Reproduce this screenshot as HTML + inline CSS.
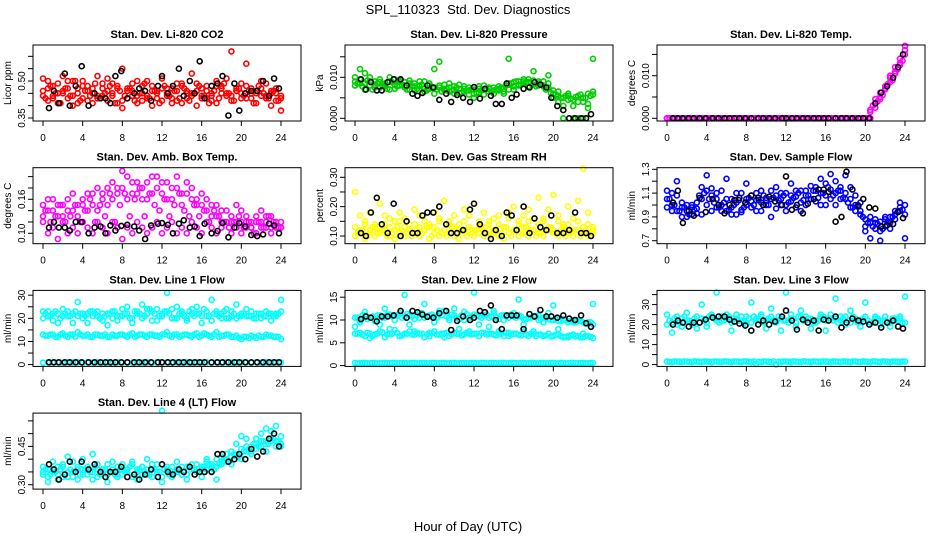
<!DOCTYPE html>
<html><head><meta charset="utf-8">
<style>
html,body{margin:0;padding:0;background:#fff;}
svg{display:block;font-family:"Liberation Sans",sans-serif;}
</style></head>
<body>
<svg id="chart" width="936" height="540" viewBox="0 0 936 540" xmlns="http://www.w3.org/2000/svg">
<text x="468" y="14" text-anchor="middle" font-size="13">SPL_110323&#160; Std. Dev. Diagnostics</text>
<text x="468" y="531" text-anchor="middle" font-size="13">Hour of Day (UTC)</text>
</svg>
<script>
const hrs = [0,0.5,1,1.5,2,2.5,3,3.5,4,4.5,5,5.5,6,6.5,7,7.5,8,8.5,9,9.5,10,10.5,11,11.5,12,12.5,13,13.5,14,14.5,15,15.5,16,16.5,17,17.5,18,18.5,19,19.5,20,20.5,21,21.5,22,22.5,23,23.5,24];
const hrs2 = [0.25,0.75,1.25,1.75,2.25,2.75,3.25,3.75,4.25,4.75,5.25,5.75,6.25,6.75,7.25,7.75,8.25,8.75,9.25,9.75,10.25,10.75,11.25,11.75,12.25,12.75,13.25,13.75,14.25,14.75,15.25,15.75,16.25,16.75,17.25,17.75,18.25,18.75,19.25,19.75,20.25,20.75,21.25,21.75,22.25,22.75,23.25,23.75];
const hrsK = [0.6,1.1,1.6,2.2,2.7,3.3,3.9,4.6,5.2,5.8,6.3,6.8,7.3,7.9,8.5,9.2,9.7,10.3,10.9,11.6,12.0,12.6,13.1,13.7,14.2,14.8,15.3,15.8,16.3,17.0,17.6,18.1,18.7,19.3,19.8,20.4,21.0,21.6,22.2,22.8,23.3,23.8];
const xTicks = [0,4,8,12,16,20,24];

const co2A = [0.51,0.47,0.44,0.49,0.46,0.43,0.50,0.45,0.48,0.42,0.47,0.52,0.44,0.46,0.49,0.41,0.55,0.47,0.44,0.50,0.45,0.43,0.48,0.46,0.51,0.44,0.47,0.42,0.49,0.45,0.53,0.46,0.43,0.48,0.44,0.50,0.47,0.45,0.62,0.46,0.49,0.43,0.47,0.45,0.50,0.44,0.46,0.42,0.38];
const co2B = [0.44,0.42,0.48,0.41,0.45,0.50,0.40,0.47,0.43,0.46,0.41,0.44,0.49,0.42,0.45,0.47,0.39,0.43,0.46,0.41,0.48,0.44,0.40,0.45,0.42,0.47,0.43,0.49,0.41,0.46,0.44,0.40,0.47,0.43,0.45,0.41,0.48,0.44,0.42,0.46,0.43,0.57,0.45,0.41,0.47,0.43,0.40,0.45,0.43];
const co2C = [0.46,0.50,0.43,0.45,0.52,0.47,0.44,0.41,0.50,0.48,0.45,0.43,0.47,0.51,0.44,0.48,0.42,0.46,0.49,0.44,0.42,0.50,0.46,0.43,0.47,0.45,0.41,0.46,0.48,0.43,0.45,0.49,0.44,0.46,0.42,0.48,0.45,0.51,0.44,0.47,0.45,0.48,0.43,0.46,0.44,0.49,0.45,0.47,0.44];
const co2D = [0.43,0.48,0.45,0.41,0.47,0.44,0.50,0.42,0.46,0.44,0.49,0.43,0.45,0.48,0.41,0.46,0.44,0.47,0.42,0.45,0.49,0.43,0.46,0.41,0.48,0.44,0.46,0.43,0.47,0.42,0.45,0.48,0.44,0.41,0.46,0.43,0.49,0.45,0.42,0.47,0.44,0.46,0.41,0.48,0.45,0.43,0.46,0.42];
const co2K = [0.39,0.46,0.41,0.53,0.40,0.48,0.56,0.40,0.45,0.43,0.43,0.41,0.52,0.54,0.43,0.45,0.47,0.46,0.42,0.48,0.52,0.45,0.48,0.55,0.44,0.50,0.45,0.58,0.43,0.48,0.49,0.52,0.36,0.49,0.38,0.45,0.46,0.46,0.50,0.44,0.51,0.47];

const prA = [0.0100,0.0085,0.0110,0.0080,0.0090,0.0075,0.0085,0.0090,0.0095,0.0080,0.0088,0.0070,0.0085,0.0078,0.0090,0.0072,0.0120,0.0080,0.0068,0.0075,0.0070,0.0082,0.0065,0.0075,0.0060,0.0078,0.0070,0.0065,0.0075,0.0068,0.0072,0.0085,0.0078,0.0090,0.0095,0.0088,0.0092,0.0085,0.0080,0.0075,0.0068,0.0055,0.0050,0.0060,0.0045,0.0055,0.0050,0.0060,0.0058];
const prB = [0.0080,0.0095,0.0070,0.0090,0.0075,0.0088,0.0080,0.0070,0.0082,0.0092,0.0075,0.0085,0.0068,0.0080,0.0072,0.0085,0.0060,0.0075,0.0082,0.0065,0.0078,0.0062,0.0072,0.0058,0.0070,0.0063,0.0080,0.0072,0.0060,0.0078,0.0065,0.0070,0.0088,0.0080,0.0085,0.0095,0.0082,0.0090,0.0078,0.0085,0.0060,0.0040,0.0000,0.0045,0.0030,0.0000,0.0040,0.0025,0.0065];
const prC = [0.0090,0.0120,0.0085,0.0100,0.0082,0.0095,0.0078,0.0100,0.0072,0.0088,0.0080,0.0092,0.0078,0.0090,0.0065,0.0080,0.0075,0.0138,0.0072,0.0085,0.0060,0.0072,0.0078,0.0068,0.0050,0.0072,0.0058,0.0075,0.0068,0.0072,0.0060,0.0145,0.0070,0.0082,0.0090,0.0078,0.0115,0.0080,0.0090,0.0105,0.0050,0.0065,0.0030,0.0055,0.0000,0.0040,0.0000,0.0035,0.0145];
const prD = [0.0085,0.0078,0.0092,0.0070,0.0085,0.0080,0.0072,0.0088,0.0078,0.0082,0.0070,0.0078,0.0072,0.0082,0.0068,0.0075,0.0070,0.0065,0.0072,0.0068,0.0075,0.0062,0.0068,0.0070,0.0062,0.0068,0.0072,0.0065,0.0070,0.0075,0.0080,0.0085,0.0090,0.0082,0.0088,0.0085,0.0078,0.0082,0.0070,0.0062,0.0058,0.0050,0.0055,0.0048,0.0052,0.0058,0.0050,0.0055];
const prK = [0.0095,0.0070,0.0088,0.0068,0.0068,0.0088,0.0095,0.0095,0.0080,0.0060,0.0055,0.0062,0.0080,0.0075,0.0045,0.0060,0.0040,0.0057,0.0050,0.0040,0.0076,0.0048,0.0072,0.0055,0.0035,0.0035,0.0085,0.0050,0.0058,0.0072,0.0075,0.0088,0.0082,0.0075,0.0050,0.0030,0.0020,0.0000,0.0000,0.0000,0.0000,0.0010];

const tmA = [0,0,0,0,0,0,0,0,0,0,0,0,0,0,0,0,0,0,0,0,0,0,0,0,0,0,0,0,0,0,0,0,0,0,0,0,0,0,0,0,0,0.0015,0.0035,0.0050,0.0070,0.0095,0.0110,0.0130,0.0170];
const tmB = [0,0,0,0,0,0,0,0,0,0,0,0,0,0,0,0,0,0,0,0,0,0,0,0,0,0,0,0,0,0,0,0,0,0,0,0,0,0,0,0,0,0.0000,0.0025,0.0045,0.0068,0.0085,0.0105,0.0125,0.0150];
const tmC = [0,0,0,0,0,0,0,0,0,0,0,0,0,0,0,0,0,0,0,0,0,0,0,0,0,0,0,0,0,0,0,0,0,0,0,0,0,0,0,0,0,0.0020,0.0045,0.0060,0.0075,0.0100,0.0120,0.0140,0.0160];
const tmD = [0,0,0,0,0,0,0,0,0,0,0,0,0,0,0,0,0,0,0,0,0,0,0,0,0,0,0,0,0,0,0,0,0,0,0,0,0,0,0,0,0,0.0030,0.0040,0.0055,0.0080,0.0090,0.0115,0.0135];
const tmK = [0,0,0,0,0,0,0,0,0,0,0,0,0,0,0,0,0,0,0,0,0,0,0,0,0,0,0,0,0,0,0,0,0,0,0,0,0.0035,0.0060,0.0075,0.0095,0.0120,0.0150];

const abA = [0.15,0.14,0.16,0.13,0.15,0.14,0.17,0.15,0.16,0.14,0.17,0.18,0.16,0.15,0.19,0.17,0.18,0.20,0.17,0.19,0.18,0.16,0.20,0.18,0.17,0.19,0.16,0.18,0.17,0.19,0.16,0.15,0.17,0.14,0.15,0.13,0.14,0.12,0.13,0.12,0.14,0.11,0.12,0.13,0.11,0.12,0.13,0.11,0.12];
const abB = [0.13,0.16,0.14,0.15,0.13,0.16,0.14,0.13,0.15,0.17,0.15,0.14,0.17,0.18,0.16,0.18,0.21,0.16,0.19,0.17,0.16,0.19,0.17,0.20,0.19,0.16,0.18,0.20,0.15,0.17,0.18,0.16,0.15,0.16,0.13,0.15,0.12,0.14,0.12,0.15,0.12,0.13,0.11,0.12,0.14,0.13,0.11,0.12,0.11];
const abC = [0.12,0.10,0.11,0.09,0.12,0.10,0.11,0.10,0.12,0.11,0.10,0.12,0.11,0.10,0.12,0.11,0.09,0.11,0.10,0.12,0.11,0.10,0.11,0.12,0.10,0.11,0.12,0.10,0.11,0.10,0.12,0.11,0.10,0.12,0.11,0.10,0.11,0.12,0.10,0.11,0.10,0.12,0.11,0.10,0.12,0.11,0.10,0.12,0.11];
const abD = [0.14,0.12,0.13,0.15,0.12,0.13,0.15,0.12,0.14,0.16,0.12,0.15,0.13,0.17,0.12,0.15,0.17,0.13,0.16,0.18,0.13,0.17,0.15,0.14,0.16,0.13,0.15,0.17,0.14,0.13,0.15,0.13,0.14,0.12,0.14,0.13,0.12,0.11,0.12,0.13,0.11,0.12,0.10,0.12,0.11,0.13,0.12,0.11];
const abK = [0.11,0.12,0.11,0.11,0.105,0.12,0.12,0.10,0.11,0.112,0.10,0.114,0.105,0.113,0.115,0.112,0.105,0.09,0.114,0.117,0.118,0.115,0.10,0.117,0.123,0.11,0.112,0.095,0.117,0.10,0.104,0.118,0.093,0.11,0.118,0.112,0.097,0.095,0.098,0.117,0.114,0.10];

const rhA = [0.10,0.11,0.09,0.12,0.10,0.11,0.12,0.10,0.09,0.11,0.10,0.12,0.11,0.10,0.12,0.09,0.11,0.10,0.12,0.11,0.10,0.09,0.11,0.12,0.10,0.11,0.10,0.12,0.11,0.10,0.09,0.11,0.12,0.10,0.11,0.10,0.12,0.11,0.10,0.12,0.11,0.10,0.12,0.11,0.10,0.12,0.11,0.10,0.11];
const rhB = [0.25,0.17,0.15,0.18,0.14,0.21,0.17,0.16,0.15,0.18,0.16,0.14,0.19,0.17,0.15,0.13,0.18,0.16,0.22,0.15,0.17,0.14,0.19,0.17,0.21,0.15,0.18,0.14,0.16,0.17,0.13,0.18,0.20,0.15,0.17,0.19,0.16,0.23,0.15,0.19,0.24,0.17,0.14,0.20,0.16,0.22,0.33,0.18,0.13];
const rhC = [0.13,0.12,0.14,0.11,0.13,0.12,0.14,0.13,0.12,0.15,0.13,0.12,0.14,0.13,0.12,0.14,0.13,0.15,0.12,0.14,0.13,0.12,0.15,0.13,0.12,0.14,0.13,0.15,0.12,0.14,0.13,0.16,0.12,0.14,0.13,0.15,0.12,0.14,0.16,0.13,0.12,0.15,0.13,0.14,0.12,0.15,0.13,0.14,0.12];
const rhD = [0.11,0.12,0.10,0.13,0.11,0.12,0.10,0.11,0.13,0.12,0.11,0.10,0.12,0.11,0.13,0.10,0.12,0.11,0.10,0.13,0.11,0.12,0.10,0.11,0.12,0.13,0.11,0.10,0.12,0.11,0.13,0.10,0.12,0.11,0.13,0.12,0.10,0.11,0.12,0.13,0.11,0.12,0.10,0.11,0.12,0.10,0.12,0.11];
const rhK = [0.11,0.10,0.18,0.23,0.14,0.11,0.21,0.10,0.15,0.11,0.11,0.17,0.18,0.18,0.20,0.14,0.11,0.11,0.12,0.19,0.21,0.14,0.11,0.09,0.12,0.10,0.18,0.17,0.12,0.20,0.11,0.16,0.13,0.12,0.17,0.11,0.11,0.12,0.18,0.11,0.11,0.10];

const sfA = [1.12,1.00,1.08,0.98,0.95,0.92,0.97,1.05,1.12,1.08,1.10,1.00,1.05,0.98,1.02,0.96,1.00,1.08,1.04,1.02,1.06,1.05,1.08,1.00,1.10,1.03,1.07,1.02,1.12,1.05,1.15,1.10,1.08,1.13,1.20,1.12,1.10,1.05,1.00,0.95,0.88,0.85,0.80,0.86,0.82,0.90,0.95,0.98,1.00];
const sfB = [0.98,1.10,0.95,1.02,0.90,1.00,0.93,1.15,1.00,1.14,0.98,1.12,0.95,1.05,0.92,1.10,1.05,0.98,1.10,0.95,1.00,1.12,0.97,1.10,0.95,1.08,0.98,1.12,1.00,1.16,1.03,1.00,1.18,1.05,1.00,1.15,1.05,1.15,0.95,1.02,0.82,0.90,0.85,0.78,0.88,0.85,0.92,1.02,0.92];
const sfC = [1.05,0.95,1.20,0.90,1.00,0.98,1.02,0.92,1.25,0.95,1.05,0.95,1.22,0.92,1.10,0.94,1.18,1.03,0.95,1.12,1.04,0.90,1.15,1.05,1.00,1.18,1.12,0.95,1.08,1.05,1.12,1.22,1.00,1.26,1.10,1.05,1.25,0.98,1.08,0.92,0.78,0.72,0.88,0.70,0.90,0.80,0.88,0.95,0.72];
const sfD = [1.05,1.00,0.95,0.98,0.92,0.96,1.08,1.10,1.05,1.02,0.98,1.02,0.96,1.00,1.04,0.98,1.06,1.00,1.04,1.08,1.00,1.06,1.04,1.08,1.02,1.06,1.10,1.04,1.08,1.12,1.06,1.10,1.15,1.08,1.12,1.06,1.02,0.98,1.00,0.90,0.85,0.82,0.84,0.80,0.86,0.90,0.94,0.96];
const sfK = [1.02,1.12,0.85,0.95,0.91,1.06,0.94,1.05,1.00,0.93,1.00,1.04,1.06,1.02,1.08,1.06,1.00,1.07,1.03,1.00,1.24,0.96,1.00,0.93,1.01,1.05,1.13,1.13,1.11,0.86,0.90,1.28,1.13,0.99,1.05,0.98,0.97,0.82,0.83,0.84,0.94,0.89];

const l1A = [23,21,19,22,24,21,22,27,20,22,21,23,19,22,20,21,24,22,20,23,26,22,19,24,21,23,20,25,22,20,24,22,21,23,28,22,20,24,21,20,22,21,23,20,22,21,19,22,28];
const l1B = [20,23,22,18,21,23,18,21,22,18,23,21,22,17,23,19,21,25,18,22,20,24,23,19,22,31,24,20,23,19,22,25,18,21,19,23,22,20,23,26,21,24,21,22,20,23,22,21,23];
const l1C = [13,12.5,13,12,13.5,12,13,14,12.5,13,12,13,12.5,12,13,12.5,13,12,13.5,12.5,13,12,13,12.5,13,14,12,13,12.5,13,12,13.5,12.5,13,12,14,12.5,13,12,12.5,11,12,12.5,11.5,12,13,12.5,12,11];
const l1D = [0.8,1,0.9,1,0.8,1,0.9,1,0.8,1,0.9,1,0.8,1,0.3,1,0.9,1,0.8,1,0.9,1,0.8,1,0.9,1,0.8,1,0.9,1,0.8,1,0.9,1,0.8,1,0.9,1,0.8,1,0.9,1,0.8,1,0.9,1,0.8,1,0.9];
const l1E = [22,21,23,20,22,21,23,22,21,23,22,20,21,22,23,21,22,20,23,22,21,24,22,21,23,22,20,22,21,23,21,22,24,21,22,21,23,20,22,21,22,21,20,22,21,22,21,22];
const l1F = [12.5,13,12,13,12.5,13,12,13,12.5,12,13,12.5,13,12,12.5,13,12.5,13,12,13,12.5,13,12.5,12,13,12.5,13,12,13,12.5,13,12,13.5,12.5,13,12,12.5,13,12,11.5,12,11.5,12,12.5,12,12.5,12,12];
const l1K = [1,1,1,1,1,1,1,1,1,1,1,1,1,1,1,1,1,1,1,1,1,1,1,1,1,1,1,1,1,1,1,1,1,1,1,1,1,1,1,1,1,1];

const l2A = [10.5,10,11,10.5,9.8,11,10.5,11.2,10,11.5,10.8,11,10.2,11.5,10.5,11,10.8,11.3,12,10.5,11,10.2,11.8,10.5,11.2,10.8,11,10.5,11.5,10.2,11,10.5,10.8,11,10.2,10.5,10.8,10,10.5,10.2,10,9.8,10.2,9.5,10,9.8,9.5,9.2,9];
const l2B = [7,7.2,6.5,7,6.8,7.5,6.2,7,7.8,6.5,7,7.5,6.8,7,6.2,7.2,7.5,6.8,7,6.5,7.2,7,6.8,7.5,7,6.5,7.2,7,6.8,7,6.5,7.2,7,6.8,7.5,6.5,7,6.8,6.5,7,6.5,6.8,6.2,6.5,6.8,6.5,6.2,6.5,6];
const l2C = [8.5,9.5,11.8,6,10,9,12.5,8,11,6.5,15.5,9,7.5,10.5,13.5,6.5,9.5,12,6.2,10,12.5,8,10,7,16,9,11,8.5,12,7.5,10,6.5,11.5,14.5,9,10.5,7.5,11,9.5,11.5,13.2,8,10,6.2,9.5,10,7,9.5,13.5];
const l2D = [0.6,0.5,0.6,0.5,0.6,0.5,0.6,0.5,0.6,0.5,0.6,0.5,0.6,0.5,0.6,0.5,0.6,0.5,0.6,0.5,0.6,0.5,0.6,0.5,0.6,0.5,0.6,0.5,0.6,0.5,0.6,0.5,0.6,0.5,0.6,0.5,0.6,0.5,0.6,0.5,0.6,0.5,0.6,0.5,0.6,0.5,0.6,0.5,0.6];
const l2E = [10.5,11,10.2,10.8,11,10.5,11.2,10.8,11,10.5,11.3,10.8,11,11.5,10.8,11.2,10.5,11,10.8,11.2,10.5,11,11.3,10.8,11,10.5,11.2,10.8,10.5,11,10.8,11.2,10.5,10.8,10.2,10.5,10.8,10.2,10.5,10,10.2,9.8,10,9.8,9.5,9.8,9.2,9.5];
const l2F = [7,6.8,7.2,6.5,7,7.3,6.8,7,7.2,6.6,7,6.8,7.2,7,6.8,7.2,6.8,7,7.2,6.8,7,6.6,7.2,6.8,7,7.2,6.8,7,6.6,7,7.2,6.8,7,6.6,6.8,7,6.5,6.8,6.6,6.4,6.8,6.5,6.3,6.6,6.4,6.2,6.5,6.3];
const l2G = [0.5,0.6,0.5,0.6,0.5,0.6,0.5,0.6,0.5,0.6,0.5,0.6,0.5,0.6,0.5,0.6,0.5,0.6,0.5,0.6,0.5,0.6,0.5,0.6,0.5,0.6,0.5,0.6,0.5,0.6,0.5,0.6,0.5,0.6,0.5,0.6,0.5,0.6,0.5,0.6,0.5,0.6,0.5,0.6,0.5,0.6,0.5,0.6];
const l2K = [10.2,10.8,10.5,9.7,10.8,10.8,11,12,10.5,12,11.7,11.2,10.7,10.5,11.5,12,7.8,9.8,10.8,10,10.5,12,11.7,13.2,10,8,11,11,11,8,11.3,10.8,12.2,10.8,10.8,10.5,11,10.3,10,11,9.3,8.5];

const l3A = [25,21,20,23,22,21,24,23,21,25,22,24,23,21,25,22,24,21,23,25,22,24,21,23,22,25,21,24,22,23,21,24,22,25,23,22,24,21,23,22,24,21,23,22,24,21,22,23,21];
const l3B = [20,16,24,19,26,20,18,30,19,24,36,22,25,17,23,24,20,31,22,24,18,28,22,17,36,23,19,27,24,18,22,25,17,23,33,24,20,27,22,19,31,21,24,20,22,19,23,24,34];
const l3C = [1.5,1.2,1.5,1.3,1.5,1.2,1.5,1.3,1.5,1.2,1.5,1.3,1.5,1.2,1.5,1.3,1.5,1.2,0.3,1.3,1.5,1.2,0,1.3,1.5,1.2,1.5,1.3,1.5,1.2,1.5,1.3,1.5,1.2,1.5,1.3,1.5,1.2,1.5,1.3,1.5,1.2,1.5,1.3,1.5,1.2,1.5,1.3,1.5];
const l3D = [22,23,21,24,22,23,21,22,24,23,21,22,24,23,22,21,23,24,22,21,23,22,24,22,21,23,24,22,23,21,22,24,23,22,21,23,22,24,21,23,22,21,23,22,21,23,22,21];
const l3E = [1.4,1.6,1.4,1.6,1.4,1.6,1.4,1.6,1.4,1.6,1.4,1.6,1.4,1.6,1.4,1.6,1.4,1.6,1.4,1.6,1.4,1.6,1.4,1.6,1.4,1.6,1.4,1.6,1.4,1.6,1.4,1.6,1.4,1.6,1.4,1.6,1.4,1.6,1.4,1.6,1.4,1.6,1.4,1.6,1.4,1.6,1.4,1.6];
const l3K = [20,22,21,19,21,21,22.5,23.5,24,24,22.5,21.5,20.5,19.5,17,20,22,20,21.5,24,27,22,17.5,22.5,21,22,17,22.5,22,24,18.5,21,23,22,21.5,20,21,18.5,21,22,19,18];

const l4A = [0.35,0.33,0.36,0.34,0.37,0.35,0.33,0.36,0.34,0.37,0.35,0.33,0.36,0.34,0.35,0.37,0.34,0.36,0.33,0.35,0.37,0.34,0.36,0.35,0.33,0.36,0.34,0.35,0.37,0.34,0.36,0.35,0.37,0.36,0.38,0.37,0.39,0.40,0.41,0.42,0.44,0.43,0.45,0.46,0.47,0.46,0.48,0.47,0.46];
const l4B = [0.37,0.31,0.39,0.32,0.38,0.33,0.39,0.32,0.40,0.36,0.32,0.38,0.35,0.31,0.39,0.33,0.38,0.36,0.39,0.32,0.37,0.40,0.33,0.38,0.31,0.37,0.33,0.39,0.34,0.32,0.38,0.35,0.33,0.40,0.35,0.32,0.38,0.42,0.38,0.46,0.40,0.48,0.42,0.44,0.50,0.43,0.51,0.45,0.49];
const l4C = [0.34,0.36,0.35,0.37,0.33,0.41,0.35,0.37,0.36,0.34,0.42,0.36,0.35,0.38,0.36,0.34,0.36,0.35,0.38,0.36,0.34,0.36,0.38,0.35,0.59,0.35,0.37,0.36,0.34,0.37,0.36,0.38,0.36,0.39,0.37,0.40,0.41,0.39,0.43,0.41,0.49,0.45,0.43,0.48,0.45,0.52,0.47,0.53,0.45];
const l4D = [0.36,0.34,0.35,0.36,0.34,0.36,0.35,0.34,0.36,0.35,0.37,0.34,0.36,0.35,0.34,0.36,0.35,0.37,0.34,0.36,0.35,0.34,0.36,0.35,0.36,0.34,0.35,0.36,0.35,0.37,0.36,0.35,0.37,0.38,0.36,0.38,0.40,0.39,0.42,0.41,0.43,0.44,0.46,0.45,0.47,0.46,0.48,0.47];
const l4K = [0.38,0.36,0.32,0.34,0.39,0.35,0.39,0.36,0.38,0.35,0.33,0.35,0.35,0.37,0.33,0.34,0.32,0.34,0.36,0.33,0.38,0.35,0.34,0.36,0.35,0.37,0.34,0.35,0.35,0.35,0.42,0.42,0.39,0.40,0.42,0.40,0.44,0.41,0.43,0.48,0.50,0.45];

const panels = [
 {name:'co2', title:'Stan. Dev. Li-820 CO2', ylab:'Licor ppm', col:'#ff0000', series:[[hrs,co2A],[hrs,co2B],[hrs,co2C],[hrs2,co2D]], black:co2K, v0:0.35,p0:118,v1:0.50,p1:81, ticks:[0.35,0.40,0.45,0.50,0.55,0.60], labels:['0.35','0.50'], lvals:[0.35,0.50]},
 {name:'pressure', title:'Stan. Dev. Li-820 Pressure', ylab:'kPa', col:'#00cd00', series:[[hrs,prA],[hrs,prB],[hrs,prC],[hrs2,prD]], black:prK, v0:0,p0:118.3,v1:0.010,p1:77.3, ticks:[0,0.005,0.010,0.015], labels:['0.000','0.010'], lvals:[0,0.010]},
 {name:'temp', title:'Stan. Dev. Li-820 Temp.', ylab:'degrees C', col:'#ff00ff', series:[[hrs,tmA],[hrs,tmB],[hrs,tmC],[hrs2,tmD]], black:tmK, v0:0,p0:118.3,v1:0.010,p1:75.7, ticks:[0,0.005,0.010,0.015], labels:['0.000','0.010'], lvals:[0,0.010]},
 {name:'amb-box-temp', title:'Stan. Dev. Amb. Box Temp.', ylab:'degrees C', col:'#ff00ff', series:[[hrs,abA],[hrs,abB],[hrs,abC],[hrs2,abD]], black:abK, v0:0.10,p0:110.6,v1:0.16,p1:76.6, ticks:[0.10,0.12,0.14,0.16,0.18,0.20], labels:['0.10','0.16'], lvals:[0.10,0.16]},
 {name:'gas-rh', title:'Stan. Dev. Gas Stream RH', ylab:'percent', col:'#ffff00', series:[[hrs,rhA],[hrs,rhB],[hrs,rhC],[hrs2,rhD]], black:rhK, v0:0.10,p0:113.3,v1:0.30,p1:54.6, ticks:[0.10,0.15,0.20,0.25,0.30], labels:['0.10','0.20','0.30'], lvals:[0.10,0.20,0.30]},
 {name:'sample-flow', title:'Stan. Dev. Sample Flow', ylab:'ml/min', col:'#0000ff', series:[[hrs,sfA],[hrs,sfB],[hrs,sfC],[hrs2,sfD]], black:sfK, v0:0.7,p0:118,v1:1.3,p1:46.6, ticks:[0.7,0.8,0.9,1.0,1.1,1.2,1.3], labels:['0.7','0.9','1.1','1.3'], lvals:[0.7,0.9,1.1,1.3]},
 {name:'line1-flow', title:'Stan. Dev. Line 1 Flow', ylab:'ml/min', col:'#00ffff', series:[[hrs,l1A],[hrs,l1B],[hrs,l1C],[hrs,l1D],[hrs2,l1E],[hrs2,l1F]], black:l1K, v0:0,p0:119.2,v1:30,p1:49.8, ticks:[0,5,10,15,20,25,30], labels:['0','10','20','30'], lvals:[0,10,20,30]},
 {name:'line2-flow', title:'Stan. Dev. Line 2 Flow', ylab:'ml/min', col:'#00ffff', series:[[hrs,l2A],[hrs,l2B],[hrs,l2C],[hrs,l2D],[hrs2,l2E],[hrs2,l2F],[hrs2,l2G]], black:l2K, v0:0,p0:120.2,v1:15,p1:51.8, ticks:[0,5,10,15], labels:['0','5','10','15'], lvals:[0,5,10,15]},
 {name:'line3-flow', title:'Stan. Dev. Line 3 Flow', ylab:'ml/min', col:'#00ffff', series:[[hrs,l3A],[hrs,l3B],[hrs,l3C],[hrs2,l3D],[hrs2,l3E]], black:l3K, v0:0,p0:119.2,v1:30,p1:59.2, ticks:[0,5,10,15,20,25,30,35], labels:['0','10','20','30'], lvals:[0,10,20,30]},
 {name:'line4-flow', title:'Stan. Dev. Line 4 (LT) Flow', ylab:'ml/min', col:'#00ffff', series:[[hrs,l4A],[hrs,l4B],[hrs,l4C],[hrs2,l4D]], black:l4K, v0:0.30,p0:116.6,v1:0.45,p1:78.3, ticks:[0.30,0.35,0.40,0.45,0.50,0.55], labels:['0.30','0.45'], lvals:[0.30,0.45]}
];

const NS = 'http://www.w3.org/2000/svg';
const svg = document.getElementById('chart');
function mk(tag, attrs, parent){ const e=document.createElementNS(NS,tag); for(const k in attrs) e.setAttribute(k,attrs[k]); (parent||svg).appendChild(e); return e; }

panels.forEach((p,i)=>{
  const cx = (i%3)*312, ry = Math.floor(i/3)*122.7;
  const g = mk('g',{transform:`translate(${cx},${ry})`});
  
  
  const xs = v => 43 + v*(238/24);
  const ys = v => p.p0 + (v-p.v0)*(p.p1-p.p0)/(p.v1-p.v0);
  const t = mk('text',{x:167,y:38,'text-anchor':'middle','font-size':'11','font-weight':'bold'},g);
  t.textContent = p.title;
  
  
  const yl = mk('text',{transform:`translate(11,83) rotate(-90)`,'text-anchor':'middle','font-size':'10'},g);
  yl.textContent = p.ylab;
  
  
  const pts = mk('g',{fill:'none',stroke:p.col,'stroke-width':'1.6'},g);
  
  
  p.series.forEach(pair=>{
    const xa=pair[0], arr=pair[1];
    const n=Math.min(arr.length,xa.length);
    for(let k=0;k<n;k++){
      const c=mk('circle',{cx:xs(xa[k]).toFixed(1),cy:ys(arr[k]).toFixed(1),r:'2.5'},pts);
      
      
    }
  });
  const bk = mk('g',{fill:'none',stroke:'#000','stroke-width':'1.6'},g);
  
  
  const nb=Math.min(p.black.length,hrsK.length);
  for(let k=0;k<nb;k++){
    const c=mk('circle',{cx:xs(hrsK[k]).toFixed(1),cy:ys(p.black[k]).toFixed(1),r:'2.5'},bk);
    
    
  }
  const box = mk('rect',{x:33,y:45,width:268,height:76,fill:'none',stroke:'#000','stroke-width':'1'},g);
  
  
  xTicks.forEach(v=>{
    mk('line',{x1:xs(v),x2:xs(v),y1:121,y2:126,stroke:'#000'},g);
    const tl=mk('text',{x:xs(v),y:141,'text-anchor':'middle','font-size':'10'},g);
    tl.textContent=String(v);
    
    
  });
  p.ticks.forEach(v=>{ mk('line',{x1:28,x2:33,y1:ys(v),y2:ys(v),stroke:'#000'},g); });
  p.lvals.forEach((v,k)=>{
    const tl=mk('text',{transform:`translate(25,${ys(v).toFixed(1)}) rotate(-90)`,'text-anchor':'middle','font-size':'10'},g);
    tl.textContent=p.labels[k];
    
    
  });
});
</script>
</body></html>
